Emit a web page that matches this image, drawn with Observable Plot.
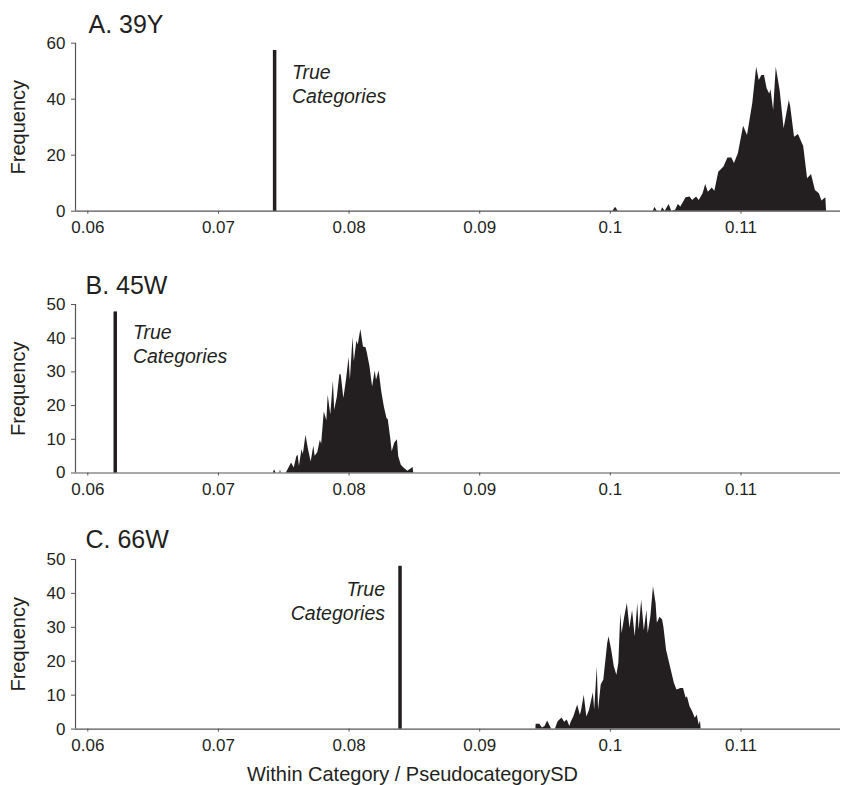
<!DOCTYPE html>
<html><head><meta charset="utf-8">
<script src="https://cdn.jsdelivr.net/npm/d3@7"></script>
<script src="https://cdn.jsdelivr.net/npm/@observablehq/plot@0.6"></script>
<style>
html,body{margin:0;padding:0;background:#fff;}
#chart{position:relative;width:845px;height:785px;overflow:hidden;background:#fff;}
#chart svg{position:absolute;left:0;overflow:visible;}
</style></head><body><div id="chart"></div>
<script>
// ---- data ----
const xTicks = [0.06, 0.07, 0.08, 0.09, 0.1, 0.11];
const xTickLabels = ["0.06", "0.07", "0.08", "0.09", "0.1", "0.11"];
const panelTitles = ["A. 39Y", "B. 45W", "C. 66W"];
const yMaxes = [60, 50, 50];
const yTicksA = [0, 20, 40, 60];
const yTicksBC = [0, 10, 20, 30, 40, 50];
const trueLabel = "True\nCategories";
const trueValues = [0.0743, 0.0621, 0.0839];
const trueHeights = [57.4, 47.8, 48];
const yLabel = "Frequency";
const xLabel = "Within Category / PseudocategorySD";

const distAx = [0.1002,0.1004,0.1006,0.1033,0.1034,0.1036,0.1039,0.1040,0.1042,0.1045,0.1047,0.1050,0.1052,0.1054,0.1058,0.1061,0.1063,0.1066,0.1068,0.1071,0.1073,0.1075,0.1078,0.1080,0.1083,0.1087,0.1090,0.1093,0.1095,0.1098,0.1102,0.1105,0.1109,0.1112,0.1114,0.1116,0.1118,0.1120,0.1122,0.1123,0.1125,0.1127,0.1130,0.1133,0.1137,0.1138,0.1141,0.1144,0.1148,0.1151,0.1154,0.1157,0.1160,0.1162,0.1165,0.11655];
const distAy = [0,1.4,0,0,1.4,0,0,1.2,0,2.4,0,0.3,2.4,1.5,4.8,5.1,3.8,5.1,3.8,6.2,9.5,6.8,8.3,7.1,13.9,15.8,19,19,17,20.5,30.3,27,38.4,51.4,46.7,48.5,48.5,43.7,41.9,43.4,36,51.4,43,29.4,39.5,37.5,26.4,27.4,23.1,11.6,13.1,7.4,6.2,3.6,4.8,0];

const distBx = [0.0742,0.0743,0.0744,0.0747,0.07475,0.0748,0.0752,0.0756,0.0758,0.0760,0.0761,0.0762,0.0764,0.0765,0.0767,0.0769,0.0771,0.0773,0.0774,0.0776,0.0778,0.0779,0.0781,0.0783,0.0784,0.0786,0.0788,0.0789,0.0791,0.0793,0.0794,0.0796,0.0798,0.0800,0.0801,0.0803,0.0804,0.0806,0.0807,0.0809,0.0811,0.0813,0.0814,0.0816,0.0818,0.0820,0.0821,0.0823,0.0825,0.0827,0.0829,0.0830,0.0832,0.0833,0.0835,0.0837,0.0838,0.0840,0.0842,0.0845,0.0849,0.08495];
const distBy = [0,1.0,0,0,1.0,0,0,3,1.5,4.8,5.3,2,7,5.5,11.2,6.8,3.3,8,5,6,9.7,8.5,18.1,15.5,23.1,17.2,27.3,18.6,22.5,29.3,29,22.1,27.5,34.3,27.5,40.2,33,39.2,38,42.6,37.4,37.2,35.5,31.5,25.5,30.3,27.5,30.3,24.1,19.6,16.2,15.8,9.9,6.3,8.9,9.9,4.8,2.3,1.5,0.5,1.6,0];

const distCx = [0.0943,0.09432,0.0946,0.0948,0.0950,0.0952,0.0955,0.0958,0.0960,0.0963,0.0965,0.0967,0.0969,0.0970,0.0972,0.0975,0.0977,0.0978,0.0980,0.0982,0.0984,0.0987,0.0988,0.0990,0.0991,0.0993,0.0995,0.0998,0.0999,0.1001,0.1003,0.1005,0.10065,0.1008,0.1009,0.1011,0.1013,0.1015,0.1017,0.1019,0.1021,0.1022,0.1024,0.1026,0.1028,0.1029,0.1031,0.1033,0.1035,0.1036,0.1038,0.1040,0.1041,0.1043,0.1046,0.1049,0.1051,0.1054,0.1056,0.1058,0.1059,0.1061,0.1063,0.1065,0.10665,0.1068,0.1069,0.10695];
const distCy = [0,1.4,1.4,0.3,0.8,2.4,0,0,2.2,3.3,2.0,2.7,0.8,2,3.6,7.1,4.1,5.5,10,3.6,5.5,10.7,5.6,18.2,5.6,13,14.5,25.3,27.2,23.3,18.4,15.9,19.4,34,28.2,33,37,29.7,35,27.2,37,29.2,38,29,35,28.2,33.1,42,37,31.2,33,32.2,30,23.3,18.4,13.5,11.5,12,12,9.1,9.5,6.6,5.1,3.2,4.1,1.2,2.4,0];

// ---- layout ----
const xDomain = [0.059058, 0.117617];
const ink = "#231f20";
const axisGray = "#555";
const font = "'Liberation Sans', Arial, Helvetica, sans-serif";

const panels = [
  {xs: distAx, ys: distAy, yTicks: yTicksA, top: 0, mt: 42.7, inner: 168, mb: 40,
   titleDx: 13, titleDy: -10.4, labelY: 53.4, labelDx: 17.4, labelAnchor: "start", showXLabel: false},
  {xs: distBx, ys: distBy, yTicks: yTicksBC, top: 264.3, mt: 40, inner: 168.5, mb: 40,
   titleDx: 10, titleDy: -11, labelY: 45, labelDx: 17.7, labelAnchor: "start", showXLabel: false},
  {xs: distCx, ys: distCy, yTicks: yTicksBC, top: 519.4, mt: 40, inner: 169.6, mb: 56,
   titleDx: 10, titleDy: -11, labelY: 44.4, labelDx: -15, labelAnchor: "end", showXLabel: true}
];

const container = document.getElementById("chart");
panels.forEach((p, i) => {
  const data = p.xs.map((x, j) => ({x, y: p.ys[j]}));
  const marks = [
    Plot.areaY(data, {x: "x", y: "y", fill: ink, curve: "linear"}),
    Plot.ruleY([0], {stroke: axisGray, strokeWidth: 1.2}),
    Plot.ruleX([xDomain[0]], {y1: 0, y2: yMaxes[i], stroke: axisGray, strokeWidth: 1.2}),
    Plot.ruleX([trueValues[i]], {y1: 0, y2: trueHeights[i], stroke: ink, strokeWidth: 3.5}),
    Plot.axisX({ticks: xTicks, tickFormat: d => xTickLabels[xTicks.indexOf(d)], tickSize: 3, tickPadding: 7,
      fontSize: 17, label: null, stroke: axisGray, fill: ink}),
    Plot.axisY({ticks: p.yTicks, tickSize: 4, tickPadding: 6, fontSize: 17, label: null, stroke: axisGray, fill: ink}),
    Plot.text([panelTitles[i]], {frameAnchor: "top-left", dx: p.titleDx, dy: p.titleDy, lineAnchor: "bottom",
      textAnchor: "start", fontSize: 25, fill: ink}),
    Plot.text([yLabel], {frameAnchor: "left", rotate: -90, dx: -56.7, textAnchor: "middle", lineAnchor: "middle",
      fontSize: 20, fill: ink}),
    Plot.text([{x: trueValues[i], y: p.labelY}], {x: "x", y: "y", text: () => trueLabel, dx: p.labelDx,
      textAnchor: p.labelAnchor, lineAnchor: "top", fontSize: 19.5, fontStyle: "italic", lineHeight: 1.25, fill: ink})
  ];
  if (p.showXLabel) {
    marks.push(Plot.text([xLabel], {frameAnchor: "bottom", dx: -45.5, dy: 52, lineAnchor: "bottom",
      textAnchor: "middle", fontSize: 20, fill: ink}));
  }
  const chart = Plot.plot({
    width: 845,
    height: p.mt + p.inner + p.mb,
    marginLeft: 75, marginRight: 5, marginTop: p.mt, marginBottom: p.mb,
    x: {domain: xDomain},
    y: {domain: [0, yMaxes[i]]},
    style: {fontFamily: font, color: ink, background: "transparent", overflow: "visible"},
    marks
  });
  chart.style.top = p.top + "px";
  container.appendChild(chart);
});
</script></body></html>
